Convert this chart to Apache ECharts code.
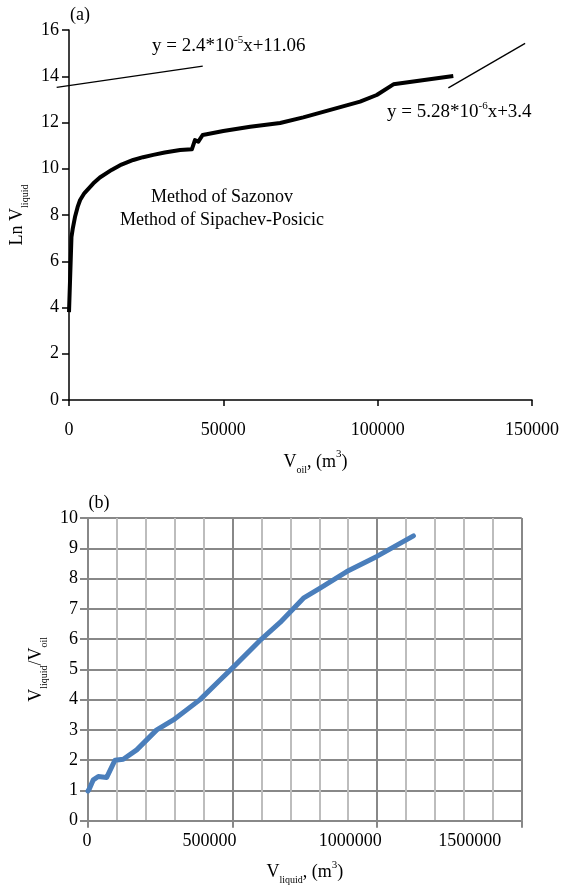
<!DOCTYPE html>
<html>
<head>
<meta charset="utf-8">
<script src="https://cdn.jsdelivr.net/npm/echarts@6/dist/echarts.min.js"></script>
<style>
html,body{margin:0;padding:0;background:#fff;}
#chart{width:569px;height:885px;}
</style>
</head>
<body>
<div id="chart"></div>
<script>
// ---- Chart (a): Ln V_liquid vs V_oil ----
const aX = [0, 800, 1200, 2000, 2800, 3600, 5000, 7900, 10000, 13800, 17000, 20800, 24000, 27300, 31000, 36000, 39800, 40800, 41900, 43300, 44600, 50000, 58700, 68400, 75900, 83500, 94300, 99700, 105100, 124500];
const aY = [3.8, 7.05, 7.4, 7.95, 8.35, 8.65, 8.95, 9.37, 9.62, 9.95, 10.18, 10.38, 10.5, 10.6, 10.7, 10.81, 10.84, 11.24, 11.17, 11.46, 11.49, 11.63, 11.82, 11.98, 12.22, 12.5, 12.9, 13.19, 13.65, 14.01];
const trend1X = [-3990, 43330];
const trend1Y = [13.52, 14.44];
const trend2X = [122900, 147770];
const trend2Y = [13.5, 15.42];
const aXRange = [0, 150000, 50000];
const aYRange = [0, 16, 2];
const trendXRange = [-4000, 150000];

// ---- Chart (b): V_liquid/V_oil vs V_liquid ----
const bX = [0, 4500, 18300, 35600, 64700, 93400, 122000, 168500, 237700, 295200, 387500, 456700, 500000, 600000, 664400, 745000, 802800, 895000, 999000, 1125600];
const bY = [0.98, 1.05, 1.35, 1.46, 1.43, 2.0, 2.03, 2.34, 3.0, 3.33, 4.0, 4.65, 5.05, 6.0, 6.55, 7.35, 7.68, 8.23, 8.73, 9.41];
const bXRange = [0, 1500000, 500000];
const bYRange = [0, 10, 1];
const bXTickLabels = ['0', '500000', '1000000', '1500000'];

const FONT = '"Liberation Serif","Times New Roman",serif';
const zip = (xs, ys) => xs.map((x, i) => [x, ys[i]]);

const chart = echarts.init(document.getElementById('chart'), null, {renderer: 'canvas'});

const nameRich = {
  m: {fontFamily: FONT, fontSize: 18, color: '#000', lineHeight: 26, verticalAlign: 'middle'},
  s: {fontFamily: FONT, fontSize: 10, color: '#000', lineHeight: 12, verticalAlign: 'bottom'},
  p: {fontFamily: FONT, fontSize: 11, color: '#000', lineHeight: 12, verticalAlign: 'top'}
};
const eqRich = {
  n: {fontFamily: FONT, fontSize: 19, fill: '#000', lineHeight: 22, verticalAlign: 'middle'},
  u: {fontFamily: FONT, fontSize: 11, fill: '#000', lineHeight: 12, verticalAlign: 'top'}
};

const option = {
  animation: false,
  backgroundColor: '#fff',
  grid: [
    {left: 69, top: 30, width: 463, height: 370, outerBoundsMode: 'none'},
    {left: 88, top: 518, width: 433.7, height: 302.7, outerBoundsMode: 'none'},
    {left: 56.65, top: 30, width: 475.35, height: 370, outerBoundsMode: 'none'}
  ],
  xAxis: [
    {
      type: 'value', gridIndex: 0, min: aXRange[0], max: aXRange[1], interval: aXRange[2],
      axisLine: {onZero: false, lineStyle: {color: '#000', width: 1.5}},
      axisTick: {show: true, inside: false, length: 6, lineStyle: {color: '#000', width: 1.5}},
      axisLabel: {fontFamily: FONT, fontSize: 18, color: '#000', margin: 21, showMinLabel: true, showMaxLabel: true,
        formatter: function (v) { return String(v); }},
      splitLine: {show: false},
      name: '{m|V}{s|oil}{m|, (m}{p|3}{m|)}',
      nameLocation: 'middle', nameGap: 49,
      nameTextStyle: {rich: nameRich, padding: [0, 0, 0, 30]}
    },
    {
      type: 'value', gridIndex: 1, min: bXRange[0], max: bXRange[1], interval: bXRange[2],
      axisLine: {onZero: false, lineStyle: {color: '#888', width: 2}},
      axisTick: {show: true, inside: false, length: 7, lineStyle: {color: '#888', width: 2}},
      minorTick: {show: false, splitNumber: 5},
      minorSplitLine: {show: true, lineStyle: {color: '#bdbdbd', width: 2}},
      splitLine: {show: true, lineStyle: {color: '#888', width: 2}},
      axisLabel: {
        fontFamily: FONT, fontSize: 18, color: '#000', margin: 12, showMinLabel: true, showMaxLabel: true,
        formatter: function (v) {
          const i = Math.round(v / bXRange[2]);
          const t = bXTickLabels[i] !== undefined ? bXTickLabels[i] : String(v);
          return '{l' + i + '|' + t + '}';
        },
        rich: {
          l0: {fontFamily: FONT, fontSize: 18, color: '#000', padding: [0, 2, 0, 0]},
          l1: {fontFamily: FONT, fontSize: 18, color: '#000', padding: [0, 46, 0, 0]},
          l2: {fontFamily: FONT, fontSize: 18, color: '#000', padding: [0, 54, 0, 0]},
          l3: {fontFamily: FONT, fontSize: 18, color: '#000', padding: [0, 104, 0, 0]}
        }
      },
      name: '{m|V}{s|liquid}{m|, (m}{p|3}{m|)}',
      nameLocation: 'middle', nameGap: 39,
      nameTextStyle: {rich: nameRich}
    },
    {
      type: 'value', gridIndex: 2, min: trendXRange[0], max: trendXRange[1], show: false
    }
  ],
  yAxis: [
    {
      type: 'value', gridIndex: 0, min: aYRange[0], max: aYRange[1], interval: aYRange[2],
      axisLine: {onZero: false, lineStyle: {color: '#000', width: 1.5}},
      axisTick: {show: true, inside: false, length: 7, lineStyle: {color: '#000', width: 1.5}},
      axisLabel: {fontFamily: FONT, fontSize: 18, color: '#000', margin: 10},
      splitLine: {show: false},
      name: '{m|Ln V}{s|liquid}',
      nameLocation: 'middle', nameGap: 29,
      nameTextStyle: {rich: nameRich}
    },
    {
      type: 'value', gridIndex: 1, min: bYRange[0], max: bYRange[1], interval: bYRange[2],
      axisLine: {onZero: false, lineStyle: {color: '#888', width: 2}},
      axisTick: {show: true, inside: false, length: 8, lineStyle: {color: '#888', width: 2}},
      axisLabel: {fontFamily: FONT, fontSize: 18, color: '#000', margin: 10},
      splitLine: {show: true, lineStyle: {color: '#888', width: 2}},
      name: '{m|V}{s|liquid}{m|/V}{s|oil}',
      nameLocation: 'middle', nameGap: 38,
      nameTextStyle: {rich: nameRich}
    },
    {
      type: 'value', gridIndex: 2, min: aYRange[0], max: aYRange[1], show: false
    }
  ],
  series: [
    {
      type: 'line', xAxisIndex: 0, yAxisIndex: 0, data: zip(aX, aY),
      showSymbol: false, symbol: 'none', smooth: false,
      lineStyle: {color: '#000', width: 4, join: 'round'}, z: 5
    },
    {
      type: 'line', xAxisIndex: 2, yAxisIndex: 2, data: zip(trend1X, trend1Y),
      showSymbol: false, symbol: 'none', clip: false,
      lineStyle: {color: '#000', width: 1.3}
    },
    {
      type: 'line', xAxisIndex: 2, yAxisIndex: 2, data: zip(trend2X, trend2Y),
      showSymbol: false, symbol: 'none', clip: false,
      lineStyle: {color: '#000', width: 1.3}
    },
    {
      type: 'line', xAxisIndex: 1, yAxisIndex: 1, data: zip(bX, bY),
      showSymbol: false, symbol: 'none', smooth: false,
      lineStyle: {color: '#4a7ebb', width: 5, join: 'round', cap: 'round'}, z: 5
    }
  ],
  graphic: [
    {type: 'text', x: 80, y: 15, style: {text: '(a)', font: '18px ' + FONT, fill: '#000', align: 'center', verticalAlign: 'middle'}},
    {type: 'text', x: 99, y: 503, style: {text: '(b)', font: '18px ' + FONT, fill: '#000', align: 'center', verticalAlign: 'middle'}},
    {type: 'text', x: 152, y: 46, style: {
      text: '{n|y = 2.4*10}{u|-5}{n|x+11.06}', align: 'left', verticalAlign: 'middle', rich: eqRich}},
    {type: 'text', x: 387, y: 112, style: {
      text: '{n|y = 5.28*10}{u|-6}{n|x+3.4}', align: 'left', verticalAlign: 'middle', rich: eqRich}},
    {type: 'text', x: 222, y: 197, style: {text: 'Method of Sazonov', font: '18px ' + FONT, fill: '#000', align: 'center', verticalAlign: 'middle'}},
    {type: 'text', x: 222, y: 220, style: {text: 'Method of Sipachev-Posicic', font: '18px ' + FONT, fill: '#000', align: 'center', verticalAlign: 'middle'}}
  ]
};

chart.setOption(option);
</script>
</body>
</html>
